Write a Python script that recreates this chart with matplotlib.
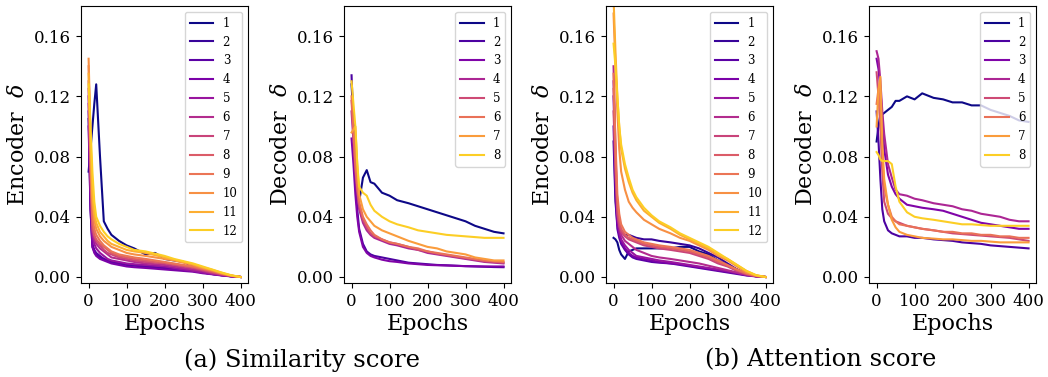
import matplotlib
matplotlib.use("Agg")
import matplotlib.pyplot as plt
import numpy as np

plt.rcParams['font.family'] = 'DejaVu Serif'
plt.rcParams['mathtext.fontset'] = 'dejavuserif'

# sampled epochs (same grid for every curve)
epochs = [0, 5, 10, 15, 20, 30, 40, 50, 60, 80, 100, 120, 150, 175, 200,
          225, 250, 275, 300, 325, 350, 375, 400]

# (a) similarity score, encoder layers 1..12
sim_enc = [
    [0.070, 0.085, 0.100, 0.115, 0.128, 0.080, 0.037, 0.032, 0.028, 0.024, 0.021, 0.019, 0.015, 0.016, 0.012, 0.011, 0.010, 0.007, 0.005, 0.003, 0.0015, 0.0005, 0.0],
    [0.105, 0.045, 0.020, 0.017, 0.015, 0.013, 0.012, 0.011, 0.010, 0.009, 0.008, 0.0075, 0.007, 0.0065, 0.006, 0.0055, 0.005, 0.004, 0.003, 0.002, 0.0012, 0.0005, 0.0],
    [0.110, 0.050, 0.022, 0.018, 0.016, 0.014, 0.012, 0.011, 0.010, 0.009, 0.0085, 0.008, 0.007, 0.0065, 0.006, 0.0055, 0.005, 0.004, 0.003, 0.002, 0.0012, 0.0005, 0.0],
    [0.100, 0.045, 0.020, 0.016, 0.014, 0.012, 0.011, 0.010, 0.009, 0.008, 0.007, 0.0065, 0.006, 0.0055, 0.005, 0.0045, 0.004, 0.0035, 0.0025, 0.0018, 0.001, 0.0004, 0.0],
    [0.120, 0.060, 0.028, 0.022, 0.019, 0.016, 0.014, 0.012, 0.011, 0.010, 0.009, 0.0085, 0.008, 0.0075, 0.007, 0.006, 0.005, 0.004, 0.003, 0.002, 0.0012, 0.0005, 0.0],
    [0.115, 0.065, 0.030, 0.025, 0.022, 0.019, 0.017, 0.015, 0.013, 0.012, 0.011, 0.010, 0.009, 0.0085, 0.008, 0.007, 0.006, 0.005, 0.004, 0.0025, 0.0015, 0.0006, 0.0],
    [0.125, 0.070, 0.032, 0.027, 0.024, 0.021, 0.018, 0.016, 0.015, 0.013, 0.012, 0.011, 0.010, 0.0095, 0.009, 0.008, 0.007, 0.006, 0.0045, 0.003, 0.0018, 0.0007, 0.0],
    [0.130, 0.075, 0.035, 0.028, 0.025, 0.022, 0.020, 0.018, 0.016, 0.014, 0.013, 0.012, 0.011, 0.010, 0.0095, 0.0085, 0.0075, 0.0065, 0.005, 0.0035, 0.002, 0.0008, 0.0],
    [0.140, 0.080, 0.040, 0.032, 0.028, 0.024, 0.021, 0.019, 0.017, 0.015, 0.014, 0.013, 0.012, 0.011, 0.010, 0.009, 0.008, 0.007, 0.0055, 0.004, 0.0022, 0.0009, 0.0],
    [0.145, 0.095, 0.050, 0.038, 0.032, 0.027, 0.024, 0.022, 0.020, 0.018, 0.016, 0.015, 0.014, 0.013, 0.012, 0.011, 0.0095, 0.008, 0.006, 0.0045, 0.0025, 0.001, 0.0],
    [0.135, 0.090, 0.055, 0.042, 0.036, 0.030, 0.027, 0.024, 0.022, 0.020, 0.018, 0.017, 0.016, 0.0145, 0.013, 0.0115, 0.010, 0.0085, 0.0065, 0.0048, 0.0028, 0.001, 0.0],
    [0.128, 0.100, 0.070, 0.050, 0.040, 0.034, 0.030, 0.027, 0.025, 0.022, 0.020, 0.018, 0.017, 0.0155, 0.014, 0.012, 0.0105, 0.009, 0.007, 0.005, 0.003, 0.0012, 0.0],
]

# (a) similarity score, decoder layers 1..8
sim_dec = [
    [0.128, 0.105, 0.080, 0.060, 0.050, 0.066, 0.071, 0.063, 0.062, 0.056, 0.054, 0.051, 0.049, 0.047, 0.045, 0.043, 0.041, 0.039, 0.037, 0.034, 0.032, 0.030, 0.029],
    [0.134, 0.100, 0.065, 0.045, 0.032, 0.022, 0.017, 0.015, 0.014, 0.013, 0.012, 0.011, 0.0095, 0.009, 0.0085, 0.008, 0.0078, 0.0075, 0.0072, 0.007, 0.0068, 0.0066, 0.0065],
    [0.092, 0.075, 0.055, 0.040, 0.030, 0.020, 0.016, 0.014, 0.013, 0.0115, 0.0105, 0.010, 0.009, 0.0085, 0.008, 0.0078, 0.0076, 0.0074, 0.0072, 0.0071, 0.007, 0.007, 0.007],
    [0.110, 0.090, 0.070, 0.055, 0.045, 0.036, 0.031, 0.028, 0.026, 0.024, 0.022, 0.021, 0.019, 0.018, 0.016, 0.015, 0.014, 0.013, 0.012, 0.011, 0.010, 0.0095, 0.009],
    [0.117, 0.095, 0.072, 0.058, 0.047, 0.038, 0.033, 0.029, 0.027, 0.025, 0.023, 0.022, 0.020, 0.018, 0.017, 0.0155, 0.0145, 0.0135, 0.0125, 0.0115, 0.0105, 0.010, 0.0095],
    [0.120, 0.098, 0.075, 0.060, 0.050, 0.040, 0.035, 0.031, 0.028, 0.025, 0.023, 0.022, 0.020, 0.019, 0.017, 0.016, 0.015, 0.014, 0.013, 0.012, 0.011, 0.0105, 0.010],
    [0.096, 0.098, 0.100, 0.075, 0.055, 0.045, 0.040, 0.037, 0.034, 0.031, 0.029, 0.027, 0.024, 0.022, 0.020, 0.019, 0.017, 0.016, 0.015, 0.013, 0.012, 0.011, 0.011],
    [0.130, 0.115, 0.100, 0.075, 0.060, 0.056, 0.054, 0.048, 0.044, 0.040, 0.037, 0.035, 0.033, 0.031, 0.030, 0.029, 0.028, 0.0275, 0.027, 0.0265, 0.026, 0.026, 0.026],
]

# (b) attention score, encoder layers 1..12
att_enc = [
    [0.026, 0.025, 0.023, 0.018, 0.015, 0.012, 0.017, 0.018, 0.019, 0.019, 0.019, 0.019, 0.019, 0.020, 0.020, 0.017, 0.015, 0.011, 0.008, 0.005, 0.002, 0.0005, 0.0],
    [0.090, 0.050, 0.035, 0.032, 0.030, 0.028, 0.028, 0.027, 0.026, 0.025, 0.025, 0.024, 0.023, 0.022, 0.021, 0.019, 0.016, 0.013, 0.009, 0.005, 0.002, 0.0006, 0.0],
    [0.100, 0.055, 0.032, 0.026, 0.022, 0.018, 0.015, 0.013, 0.012, 0.011, 0.010, 0.0095, 0.009, 0.008, 0.007, 0.006, 0.005, 0.004, 0.003, 0.002, 0.001, 0.0004, 0.0],
    [0.120, 0.065, 0.035, 0.028, 0.024, 0.019, 0.016, 0.014, 0.013, 0.012, 0.011, 0.010, 0.009, 0.0085, 0.0075, 0.0065, 0.0055, 0.0045, 0.0035, 0.0025, 0.0012, 0.0005, 0.0],
    [0.130, 0.075, 0.040, 0.030, 0.025, 0.021, 0.018, 0.016, 0.014, 0.013, 0.012, 0.011, 0.010, 0.009, 0.008, 0.007, 0.006, 0.005, 0.004, 0.0027, 0.0014, 0.0005, 0.0],
    [0.140, 0.085, 0.045, 0.034, 0.028, 0.024, 0.022, 0.020, 0.018, 0.016, 0.014, 0.013, 0.012, 0.011, 0.010, 0.009, 0.0075, 0.006, 0.0045, 0.003, 0.0015, 0.0005, 0.0],
    [0.110, 0.070, 0.042, 0.034, 0.030, 0.027, 0.025, 0.024, 0.023, 0.021, 0.020, 0.019, 0.018, 0.017, 0.016, 0.014, 0.012, 0.009, 0.007, 0.004, 0.002, 0.0006, 0.0],
    [0.125, 0.080, 0.048, 0.038, 0.032, 0.028, 0.026, 0.025, 0.024, 0.022, 0.021, 0.020, 0.019, 0.018, 0.017, 0.015, 0.013, 0.010, 0.0075, 0.0045, 0.002, 0.0007, 0.0],
    [0.135, 0.090, 0.055, 0.042, 0.035, 0.030, 0.028, 0.026, 0.025, 0.023, 0.022, 0.021, 0.020, 0.019, 0.018, 0.016, 0.014, 0.011, 0.008, 0.005, 0.0025, 0.0008, 0.0],
    [0.175, 0.140, 0.110, 0.085, 0.070, 0.058, 0.050, 0.046, 0.043, 0.038, 0.035, 0.032, 0.029, 0.026, 0.024, 0.021, 0.018, 0.014, 0.011, 0.007, 0.003, 0.001, 0.0],
    [0.185, 0.150, 0.120, 0.100, 0.085, 0.072, 0.063, 0.056, 0.051, 0.044, 0.040, 0.036, 0.032, 0.028, 0.025, 0.022, 0.019, 0.015, 0.012, 0.008, 0.004, 0.0012, 0.0],
    [0.155, 0.140, 0.120, 0.100, 0.088, 0.075, 0.066, 0.058, 0.053, 0.046, 0.041, 0.037, 0.033, 0.029, 0.026, 0.023, 0.020, 0.016, 0.012, 0.008, 0.004, 0.0012, 0.0],
]

# (b) attention score, decoder layers 1..8
att_dec = [
    [0.090, 0.100, 0.108, 0.108, 0.109, 0.111, 0.113, 0.117, 0.117, 0.120, 0.118, 0.122, 0.119, 0.118, 0.116, 0.116, 0.114, 0.114, 0.111, 0.109, 0.107, 0.104, 0.103],
    [0.110, 0.090, 0.065, 0.045, 0.037, 0.031, 0.029, 0.028, 0.027, 0.027, 0.026, 0.026, 0.025, 0.0245, 0.024, 0.023, 0.0225, 0.022, 0.021, 0.0205, 0.020, 0.0195, 0.019],
    [0.145, 0.138, 0.125, 0.105, 0.085, 0.068, 0.060, 0.055, 0.052, 0.048, 0.047, 0.046, 0.045, 0.044, 0.042, 0.040, 0.038, 0.036, 0.035, 0.034, 0.033, 0.032, 0.032],
    [0.150, 0.145, 0.130, 0.110, 0.095, 0.075, 0.066, 0.058, 0.055, 0.054, 0.052, 0.051, 0.049, 0.048, 0.047, 0.045, 0.044, 0.042, 0.041, 0.040, 0.038, 0.037, 0.037],
    [0.136, 0.120, 0.100, 0.070, 0.050, 0.042, 0.039, 0.037, 0.036, 0.034, 0.033, 0.032, 0.031, 0.030, 0.029, 0.0285, 0.028, 0.0275, 0.027, 0.0265, 0.026, 0.025, 0.024],
    [0.115, 0.125, 0.110, 0.080, 0.060, 0.048, 0.040, 0.037, 0.035, 0.034, 0.033, 0.032, 0.031, 0.030, 0.030, 0.029, 0.029, 0.028, 0.028, 0.027, 0.027, 0.026, 0.026],
    [0.100, 0.125, 0.133, 0.090, 0.065, 0.048, 0.038, 0.033, 0.030, 0.028, 0.027, 0.026, 0.0255, 0.025, 0.025, 0.0245, 0.024, 0.024, 0.0235, 0.023, 0.023, 0.023, 0.023],
    [0.083, 0.081, 0.078, 0.077, 0.077, 0.077, 0.075, 0.060, 0.050, 0.043, 0.040, 0.039, 0.038, 0.037, 0.036, 0.035, 0.035, 0.0345, 0.034, 0.034, 0.034, 0.034, 0.034],
]

panels = [(sim_enc, "Encoder"), (sim_dec, "Decoder"), (att_enc, "Encoder"), (att_dec, "Decoder")]
lefts = [0.0773, 0.3282, 0.5782, 0.8292]
captions = ["(a) Similarity score", "(b) Attention score"]
caption_x = [0.288, 0.783]

fig = plt.figure(figsize=(10.48, 3.77), dpi=100)

for (series, name), left in zip(panels, lefts):
    ax = fig.add_axes([left, 0.2493, 0.1595, 0.7347])
    colors = plt.cm.plasma(np.linspace(0, 0.9, len(series)))
    for i, ys in enumerate(series):
        ax.plot(epochs, ys, color=colors[i], lw=1.5, label=str(i + 1))
    ax.set_xlim(-20, 420)
    ax.set_ylim(-0.004, 0.18)
    ax.set_xticks([0, 100, 200, 300, 400])
    ax.set_yticks([0.0, 0.04, 0.08, 0.12, 0.16])
    ax.yaxis.set_major_formatter(matplotlib.ticker.FormatStrFormatter('%.2f'))
    ax.tick_params(labelsize=12)
    ax.set_xlabel("Epochs", fontsize=16, labelpad=2)
    ax.set_ylabel(name + r"  $\delta$", fontsize=16)
    ax.legend(loc='upper right', fontsize=8.5)

for txt, x in zip(captions, caption_x):
    fig.text(x, 0.045, txt, fontsize=17.5, ha='center', va='center')

fig.savefig("out.png", dpi=100)
